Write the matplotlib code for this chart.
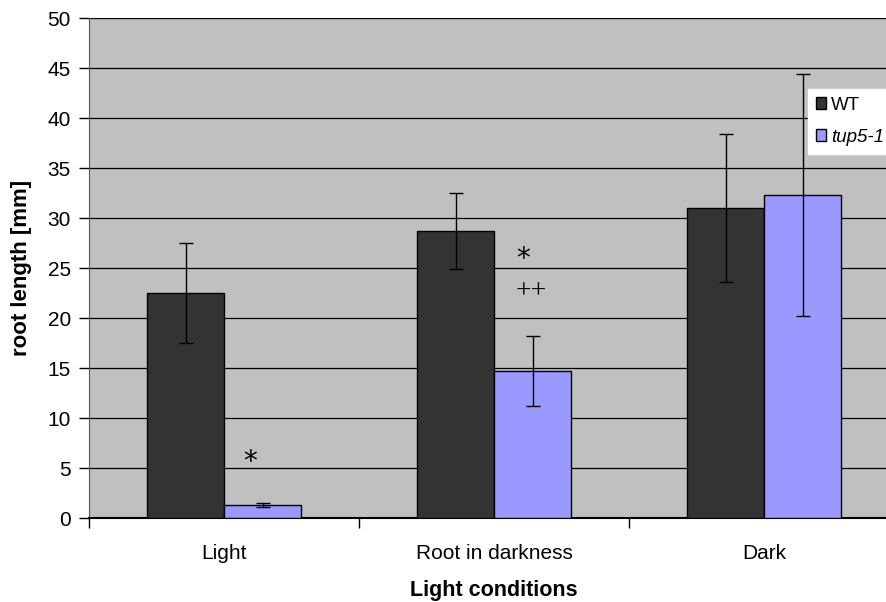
import matplotlib
matplotlib.use("Agg")
import matplotlib.pyplot as plt
import numpy as np

plt.rcParams['font.family'] = ['Liberation Sans', 'DejaVu Sans']

categories = ["Light", "Root in darkness", "Dark"]
wt_values = [22.5, 28.7, 31.0]
wt_errors = [5.0, 3.8, 7.4]
tup_values = [1.3, 14.7, 32.3]
tup_errors = [0.2, 3.5, 12.1]
series_names = ["WT", "tup5-1"]
y_ticks = [0, 5, 10, 15, 20, 25, 30, 35, 40, 45, 50]

fig = plt.figure(figsize=(8.86, 6.02), dpi=100)
ax = fig.add_axes([89/886, 1-518/602, 810/886, 500/602])
ax.set_facecolor('#C0C0C0')

x = np.arange(len(categories))
w = 77/270
ekw = dict(ecolor='black', elinewidth=1.0, capsize=5, capthick=1.0, zorder=6)
ax.bar(x - w/2, wt_values, w, color='#333333', edgecolor='black', linewidth=1.0,
       yerr=wt_errors, error_kw=ekw, zorder=3, label=series_names[0])
ax.bar(x + w/2, tup_values, w, color='#9999FF', edgecolor='black', linewidth=1.0,
       yerr=tup_errors, error_kw=ekw, zorder=3, label=series_names[1])

ax.set_xlim(-0.5, 2.5)
ax.set_ylim(0, 50)
ax.set_yticks(y_ticks)
ax.yaxis.grid(True, color='black', linewidth=0.9, zorder=1)
ax.set_axisbelow(True)
ax.tick_params(axis='y', labelsize=15, length=7, direction='out', width=1, pad=6)

ax.set_xticks([-0.5, 0.5, 1.5])
ax.set_xticklabels([])
ax.tick_params(axis='x', which='major', length=7, width=1, direction='out')
ax.set_xticks(x, minor=True)
ax.set_xticklabels(categories, minor=True)
ax.tick_params(axis='x', which='minor', length=0, labelsize=15, pad=19)

for s in ['top', 'right']:
    ax.spines[s].set_visible(False)
ax.spines['left'].set_color('#555555')
ax.spines['bottom'].set_color('black')
ax.spines['bottom'].set_linewidth(1.5)

ax.set_xlabel("Light conditions", fontsize=15.5, fontweight='bold', labelpad=12)
ax.set_ylabel("root length [mm]", fontsize=16, fontweight='bold', labelpad=11)

# significance marks
ax.text(x[0] + w/2 - 0.045, 5.6, "*", fontsize=20, ha='center', va='center', zorder=5,
        family='DejaVu Sans')
ax.text(x[1] + w/2 - 0.035, 25.9, "*", fontsize=20, ha='center', va='center', zorder=5,
        family='DejaVu Sans')
ax.text(x[1] + w/2 - 0.005, 22.6, "++", fontsize=20, ha='center', va='center', zorder=5,
        family='Liberation Serif')

leg = ax.legend(loc='upper left', bbox_to_anchor=((808-89)/810, (518-89)/500), frameon=True,
                fontsize=13.5, handlelength=0.56, handleheight=0.6, handletextpad=0.25,
                borderpad=0.42, labelspacing=0.8, fancybox=False, borderaxespad=0)
leg.get_frame().set_facecolor('white')
leg.get_frame().set_edgecolor('white')
leg.get_frame().set_alpha(1)
leg.set_zorder(4)
leg.get_texts()[1].set_style('italic')

fig.savefig("out.png", dpi=100)
